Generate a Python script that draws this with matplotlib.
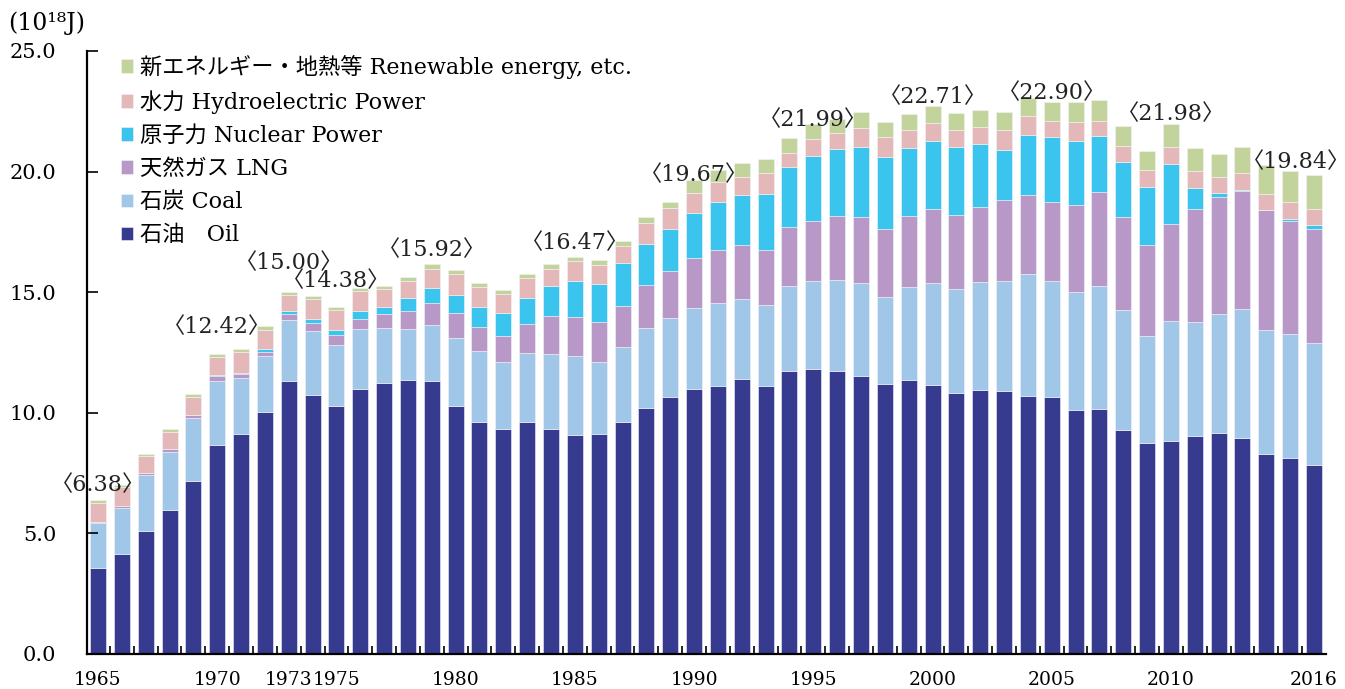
import matplotlib
matplotlib.use('Agg')
import matplotlib.pyplot as plt
import numpy as np

plt.rcParams['font.family'] = ['DejaVu Serif', 'Noto Sans CJK JP']

years = list(range(1965, 2017))

# 10^18 J
oil = [3.55, 4.14, 5.10, 5.95, 7.19, 8.67, 9.13, 10.04, 11.33, 10.72,
       10.30, 11.00, 11.24, 11.37, 11.33, 10.30, 9.63, 9.33, 9.63, 9.34,
       9.10, 9.14, 9.63, 10.20, 10.64, 11.00, 11.13, 11.39, 11.12, 11.75,
       11.80, 11.75, 11.51, 11.18, 11.35, 11.14, 10.84, 10.95, 10.89, 10.69,
       10.65, 10.13, 10.16, 9.29, 8.76, 8.81, 9.05, 9.18, 8.97, 8.31,
       8.11, 7.82]
coal = [1.87, 1.90, 2.31, 2.43, 2.59, 2.66, 2.31, 2.33, 2.53, 2.68,
        2.52, 2.47, 2.29, 2.10, 2.31, 2.80, 2.94, 2.78, 2.83, 3.10,
        3.26, 2.96, 3.08, 3.30, 3.29, 3.34, 3.43, 3.33, 3.35, 3.52,
        3.66, 3.77, 3.88, 3.63, 3.85, 4.23, 4.29, 4.49, 4.59, 5.05,
        4.82, 4.89, 5.11, 4.98, 4.43, 5.01, 4.71, 4.90, 5.32, 5.13,
        5.16, 5.07]
lng = [0.07, 0.10, 0.09, 0.11, 0.11, 0.18, 0.18, 0.17, 0.25, 0.32,
       0.39, 0.42, 0.58, 0.75, 0.91, 1.02, 1.00, 1.06, 1.21, 1.56,
       1.60, 1.66, 1.70, 1.79, 1.96, 2.06, 2.18, 2.22, 2.28, 2.43,
       2.49, 2.62, 2.72, 2.80, 2.96, 3.06, 3.07, 3.11, 3.33, 3.29,
       3.27, 3.61, 3.89, 3.86, 3.78, 4.00, 4.69, 4.87, 4.89, 4.96,
       4.68, 4.74]
nuclear = [0.00, 0.00, 0.00, 0.00, 0.00, 0.04, 0.05, 0.09, 0.09, 0.17,
           0.23, 0.31, 0.29, 0.55, 0.64, 0.78, 0.83, 0.96, 1.07, 1.26,
           1.50, 1.58, 1.79, 1.71, 1.71, 1.87, 2.00, 2.07, 2.32, 2.48,
           2.69, 2.78, 2.89, 2.99, 2.82, 2.85, 2.83, 2.58, 2.09, 2.47,
           2.68, 2.63, 2.31, 2.26, 2.38, 2.49, 0.87, 0.15, 0.06, 0.00,
           0.10, 0.14]
hydro = [0.76, 0.78, 0.69, 0.72, 0.76, 0.76, 0.83, 0.81, 0.68, 0.83,
         0.81, 0.83, 0.72, 0.68, 0.79, 0.84, 0.83, 0.80, 0.85, 0.70,
         0.83, 0.79, 0.73, 0.87, 0.89, 0.84, 0.83, 0.76, 0.87, 0.61,
         0.72, 0.70, 0.79, 0.82, 0.73, 0.75, 0.71, 0.71, 0.83, 0.81,
         0.68, 0.79, 0.64, 0.67, 0.70, 0.71, 0.71, 0.66, 0.71, 0.68,
         0.69, 0.68]
renewable = [0.13, 0.09, 0.09, 0.11, 0.12, 0.11, 0.14, 0.14, 0.12, 0.11,
             0.13, 0.14, 0.15, 0.18, 0.20, 0.17, 0.17, 0.18, 0.17, 0.21,
             0.18, 0.21, 0.21, 0.23, 0.25, 0.56, 0.50, 0.60, 0.59, 0.60,
             0.63, 0.55, 0.69, 0.63, 0.67, 0.68, 0.67, 0.72, 0.74, 0.73,
             0.80, 0.82, 0.87, 0.83, 0.79, 0.96, 0.95, 0.95, 1.08, 1.18,
             1.28, 1.39]

series = [oil, coal, lng, nuclear, hydro, renewable]
labels = ['石油\u3000Oil', '石炭 Coal', '天然ガス LNG', '原子力 Nuclear Power',
          '水力 Hydroelectric Power', '新エネルギー・地熱等 Renewable energy, etc.']
colors = ['#373b8f', '#a0c6e8', '#b898c6', '#3bc4ee', '#e4b8b8', '#c2d39c']

ann_years = [1965, 1970, 1973, 1975, 1979, 1985, 1990, 1995, 2000, 2005, 2010, 2016]
ann_text = ['6.38', '12.42', '15.00', '14.38', '15.92', '16.47',
            '19.67', '21.99', '22.71', '22.90', '21.98', '19.84']
ann_lift = [0.62, 1.15, 1.2, 1.1, 0.57, 0.57, 0.2, 0.16, 0.39, 0.36, 0.42, 0.56]

tick_years = [1965, 1970, 1973, 1975, 1980, 1985, 1990, 1995, 2000, 2005, 2010, 2016]

fig = plt.figure(figsize=(13.45, 6.89), dpi=100)
ax = fig.add_axes([0.0647, 0.0508, 0.9213, 0.8752])

x = np.arange(len(years))
bottom = np.zeros(len(years))
handles = []
for vals, lab, col in zip(series, labels, colors):
    h = ax.bar(x, vals, width=0.67, bottom=bottom, color=col, label=lab,
               edgecolor='#f4f4f8', linewidth=0.4)
    handles.append(h)
    bottom = bottom + np.array(vals)

total = bottom
for yr, txt, lift in zip(ann_years, ann_text, ann_lift):
    i = years.index(yr)
    xi = min(i, len(years) - 1.75)
    ax.text(xi, total[i] + lift, '\u3008' + txt + '\u3009', ha='center', va='center',
            fontsize=16, color='#222222')

ax.set_xlim(-0.46, len(years) - 0.49)
ax.set_ylim(0, 25)

ax.spines['top'].set_visible(False)
ax.spines['right'].set_visible(False)
ax.spines['left'].set_linewidth(1.6)
ax.spines['bottom'].set_linewidth(1.6)

ax.set_yticks(np.arange(0, 26, 5))
ax.set_yticklabels(['%.1f' % v for v in np.arange(0, 26, 5)])
ax.tick_params(axis='y', direction='in', length=8, width=1.2, pad=22, labelsize=15)

ax.set_xticks([years.index(y) for y in tick_years])
ax.set_xticklabels([str(y) for y in tick_years])
ax.set_xticks(x[:-1] + 0.5, minor=True)
ax.tick_params(axis='x', which='major', length=0, pad=12, labelsize=13.5)
ax.tick_params(axis='x', which='minor', direction='in', length=6, width=1.2)

fig.text(0.006, 0.967, '(10\u00b9\u2078J)', fontsize=17, ha='left', va='center')

ax.legend(handles[::-1], labels[::-1], loc='upper left', bbox_to_anchor=(0.02, 1.008),
          frameon=False, fontsize=16, handlelength=0.55, handleheight=0.55,
          handletextpad=0.3, labelspacing=0.5, borderaxespad=0)

fig.savefig('out.png', dpi=100)
plt.close('all')
